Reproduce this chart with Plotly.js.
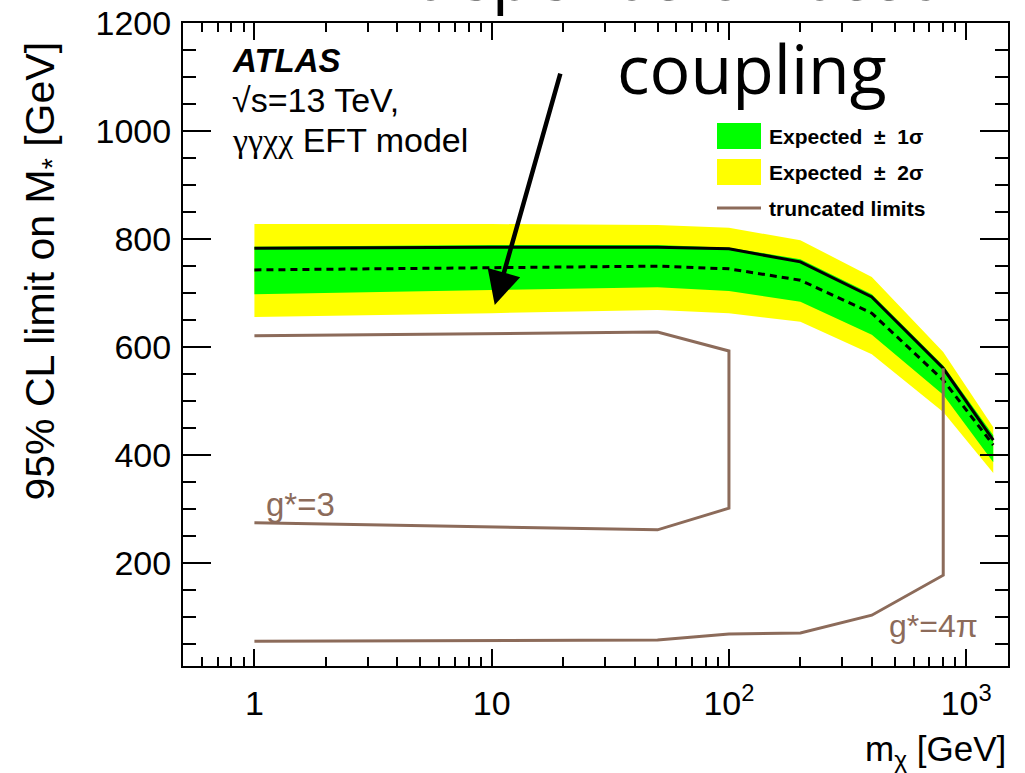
<!DOCTYPE html>
<html>
<head>
<meta charset="utf-8">
<script src="https://cdn.plot.ly/plotly-3.0.1.min.js"></script>
<style>html,body{margin:0;padding:0;background:#fff;}#chart{width:1025px;height:773px;}</style>
</head>
<body>
<div id="chart"></div>
<script>
// ---- data ----
var mChi        = [1, 10, 50, 100, 200, 400, 800, 1300];
var observed    = [783, 785, 785, 782, 758, 693, 561, 428];
var expected    = [743, 747, 750, 745, 724, 663, 539, 419];
var exp1sUp     = [786, 789, 789, 784, 763, 698, 566, 437];
var exp1sDown   = [698, 706, 711, 704, 684, 623, 512, 387];
var exp2sUp     = [828, 828, 826, 821, 798, 730, 591, 452];
var exp2sDown   = [656, 663, 669, 663, 647, 587, 480, 367];

var trunc3X     = [1, 50, 100, 100, 50, 1];
var trunc3Y     = [621, 628, 593, 302, 262, 275];
var trunc4piX   = [1, 50, 100, 200, 400, 800, 800];
var trunc4piY   = [56, 58, 69, 71, 104, 178, 561];

var xTickVals   = [1, 10, 100, 1000];
var xTickText   = ['1', '10', '10<sup>2</sup>', '10<sup>3</sup>'];
var yTickVals   = [200, 400, 600, 800, 1000, 1200];
var yTickText   = ['200', '400', '600', '800', '1000', '1200'];
var legendLabels = ['Expected \u00a0\u00b1\u00a0 1\u03c3', 'Expected \u00a0\u00b1\u00a0 2\u03c3', 'truncated limits'];

// ---- colours ----
var GREEN = '#00ff00', YELLOW = '#ffff00', BROWN = '#8c6b5a';
var FONT = 'Liberation Sans, Arial, Helvetica, sans-serif';

function band(lo, hi) {
  return {x: mChi.concat(mChi.slice().reverse()), y: hi.concat(lo.slice().reverse())};
}
var b2 = band(exp2sDown, exp2sUp);
var b1 = band(exp1sDown, exp1sUp);

var minorX = [];
[0.1, 1, 10, 100].forEach(function (d) {
  for (var k = 2; k <= 9; k++) { var v = k * d; if (v >= 0.5) minorX.push(v); }
});
var minorY = [];
for (var v = 50; v < 1200; v += 50) { if (v % 200 !== 0) minorY.push(v); }

var traces = [
  {x: b2.x, y: b2.y, type: 'scatter', mode: 'lines', fill: 'toself', fillcolor: YELLOW,
   line: {width: 0, color: YELLOW}, hoverinfo: 'skip', name: legendLabels[1], showlegend: false},
  {x: b1.x, y: b1.y, type: 'scatter', mode: 'lines', fill: 'toself', fillcolor: GREEN,
   line: {width: 0, color: GREEN}, hoverinfo: 'skip', name: legendLabels[0], showlegend: false},
  {x: mChi, y: expected, type: 'scatter', mode: 'lines', name: 'Expected',
   line: {color: '#000', width: 3, dash: '7px,5px'}, showlegend: false},
  {x: mChi, y: observed, type: 'scatter', mode: 'lines', name: 'Observed',
   line: {color: '#000', width: 3}, showlegend: false},
  {x: trunc3X, y: trunc3Y, type: 'scatter', mode: 'lines', name: 'g*=3',
   line: {color: BROWN, width: 3}, showlegend: false},
  {x: trunc4piX, y: trunc4piY, type: 'scatter', mode: 'lines', name: 'g*=4\u03c0',
   line: {color: BROWN, width: 3}, showlegend: false}
];

function px2paperX(px) { return (px - 183) / 825; }
function px2paperY(py) { return (666 - py) / 643; }

var annotations = [
  // header line of the slide overlay, cut by the top edge as in the reference
  {xref: 'paper', yref: 'paper', x: px2paperX(752), y: px2paperY(-27), xanchor: 'center', yanchor: 'middle',
   text: 'depends on assumed', showarrow: false, font: {family: 'Open Sans, sans-serif', size: 68, color: '#000'}},
  {xref: 'paper', yref: 'paper', x: px2paperX(752), y: px2paperY(68), xanchor: 'center', yanchor: 'middle',
   text: 'coupling', showarrow: false, font: {family: 'Open Sans, sans-serif', size: 68, color: '#000'}},
  {xref: 'x', yref: 'y', x: Math.log10(10.3), y: 678, ax: 68, ay: -240, text: ' ', showarrow: true,
   arrowhead: 2, arrowsize: 1.5, arrowwidth: 4.5, arrowcolor: '#000', standoff: 0},
  {xref: 'paper', yref: 'paper', x: px2paperX(230), y: px2paperY(61), xanchor: 'left', yanchor: 'middle',
   text: '<b><i>ATLAS</i></b>', showarrow: false, font: {family: FONT, size: 33, color: '#000'}},
  {xref: 'paper', yref: 'paper', x: px2paperX(230), y: px2paperY(100), xanchor: 'left', yanchor: 'middle',
   text: '\u221as=13 TeV,', showarrow: false, font: {family: FONT, size: 34, color: '#000'}},
  {xref: 'paper', yref: 'paper', x: px2paperX(230), y: px2paperY(140), xanchor: 'left', yanchor: 'middle',
   text: '<span style="font-family:Liberation Serif, serif">\u03b3\u03b3\u03c7\u03c7</span> EFT model', showarrow: false, font: {family: FONT, size: 34, color: '#000'}},
  {xref: 'paper', yref: 'paper', x: px2paperX(767), y: px2paperY(136), xanchor: 'left', yanchor: 'middle',
   text: '<b>' + legendLabels[0] + '</b>', showarrow: false, font: {family: FONT, size: 21, color: '#000'}},
  {xref: 'paper', yref: 'paper', x: px2paperX(767), y: px2paperY(172), xanchor: 'left', yanchor: 'middle',
   text: '<b>' + legendLabels[1] + '</b>', showarrow: false, font: {family: FONT, size: 21, color: '#000'}},
  {xref: 'paper', yref: 'paper', x: px2paperX(767), y: px2paperY(208), xanchor: 'left', yanchor: 'middle',
   text: '<b>' + legendLabels[2] + '</b>', showarrow: false, font: {family: FONT, size: 21, color: '#000'}},
  {xref: 'x', yref: 'y', x: Math.log10(1.1), y: 308, xanchor: 'left', yanchor: 'middle',
   text: 'g*=3', showarrow: false, font: {family: FONT, size: 33, color: BROWN}},
  {xref: 'x', yref: 'y', x: Math.log10(465), y: 84, xanchor: 'left', yanchor: 'middle',
   text: 'g*=4\u03c0', showarrow: false, font: {family: FONT, size: 32, color: BROWN}},
  {xref: 'paper', yref: 'paper', x: px2paperX(42), y: px2paperY(40), xanchor: 'center', yanchor: 'top',
   textangle: -90, text: '95% CL limit on M<sub>*</sub> [GeV]', showarrow: false, font: {family: FONT, size: 41, color: '#000'}},
  {xref: 'paper', yref: 'paper', x: 1.0, y: px2paperY(751), xanchor: 'right', yanchor: 'middle',
   text: 'm<sub>\u03c7</sub> [GeV]', showarrow: false, font: {family: FONT, size: 35, color: '#000'}}
];

var shapes = [
  {type: 'rect', xref: 'paper', yref: 'paper', x0: px2paperX(717), x1: px2paperX(761), y0: px2paperY(149), y1: px2paperY(123),
   fillcolor: GREEN, line: {width: 0}},
  {type: 'rect', xref: 'paper', yref: 'paper', x0: px2paperX(717), x1: px2paperX(761), y0: px2paperY(185), y1: px2paperY(159),
   fillcolor: YELLOW, line: {width: 0}},
  {type: 'line', xref: 'paper', yref: 'paper', x0: px2paperX(717), x1: px2paperX(761), y0: px2paperY(208), y1: px2paperY(208),
   line: {color: BROWN, width: 3}}
];

var layout = {
  width: 1025, height: 773,
  margin: {l: 183, r: 17, t: 23, b: 107},
  paper_bgcolor: '#fff', plot_bgcolor: '#fff',
  showlegend: false,
  font: {family: FONT, color: '#000'},
  xaxis: {
    type: 'log', range: [Math.log10(0.5), Math.log10(1500)],
    tickmode: 'array', tickvals: xTickVals, ticktext: xTickText,
    ticks: 'inside', ticklen: 17, tickwidth: 2, tickcolor: '#000',
    showline: true, linewidth: 2, linecolor: '#000', mirror: 'allticks',
    showgrid: false, zeroline: false,
    tickfont: {family: FONT, size: 34, color: '#000'},
    ticklabelstandoff: 6,
    minor: {tickmode: 'array', tickvals: minorX, ticks: 'inside', ticklen: 9, tickwidth: 2, tickcolor: '#000', showgrid: false}
  },
  yaxis: {
    range: [10, 1200],
    tickmode: 'array', tickvals: yTickVals, ticktext: yTickText,
    ticks: 'inside', ticklen: 28, tickwidth: 2, tickcolor: '#000',
    showline: true, linewidth: 2, linecolor: '#000', mirror: 'allticks',
    showgrid: false, zeroline: false,
    tickfont: {family: FONT, size: 34, color: '#000'},
    ticklabelstandoff: 3,
    minor: {tickmode: 'array', tickvals: minorY, ticks: 'inside', ticklen: 13, tickwidth: 2, tickcolor: '#000', showgrid: false}
  },
  annotations: annotations,
  shapes: shapes
};

Plotly.newPlot('chart', traces, layout, {displayModeBar: false, staticPlot: true});
</script>
</body>
</html>
